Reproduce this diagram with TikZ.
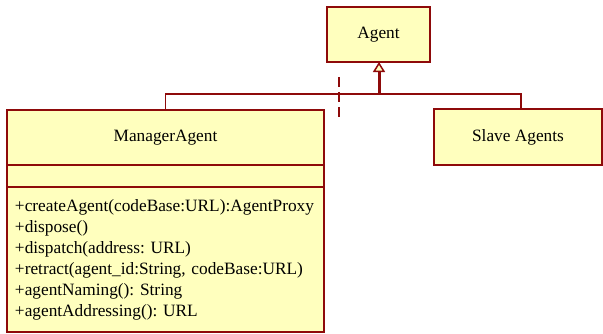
\documentclass[tikz,border=0pt]{standalone}
\usepackage{fontspec}
\setmainfont{Liberation Serif}
\usepackage{xcolor}
\usepackage{tikz}
\usetikzlibrary{arrows.meta,positioning,calc}
\definecolor{umlred}{HTML}{8E0A0A}
\definecolor{umlfill}{HTML}{FFFFBE}
\frenchspacing

\begin{document}
\begin{tikzpicture}[x=1pt,y=-1pt,every node/.style={font=\fontsize{17.3}{21}\selectfont},cls/.style={draw=umlred,fill=umlfill,line width=1.6pt,inner sep=0pt,outer sep=0pt,align=center},link/.style={draw=umlred,line width=1.5pt}]
\useasboundingbox (0,0) rectangle (603,333);
\node[cls,minimum width=103pt,minimum height=55pt] (agent) at (378.5,34.5) {Agent};
\node[cls,minimum width=317pt,minimum height=55pt] (mgrname) at (165.5,137.5) {ManagerAgent};
\node[cls,minimum width=317pt,minimum height=22pt,below=0pt of mgrname] (mgrattr) {};
\node[cls,minimum width=317pt,minimum height=145pt,below=0pt of mgrattr,text width=301pt,align=left] (mgrops) {+createAgent(codeBase:URL):AgentProxy\\+dispose()\\+dispatch(address: URL)\\+retract(agent\_id:String, codeBase:URL)\\+agentNaming(): String\\+agentAddressing(): URL};
\node[cls,minimum width=168pt,minimum height=56pt] (slave) at (518,137) {Slave Agents};
\coordinate (bus) at (379,94);
\draw[link] (mgrname.north) |- (bus) -| ([xshift=3pt]slave.north);
\draw[draw=umlred,line width=3pt,-{Triangle[length=10pt,width=12pt,fill=umlfill,line width=1.5pt]}] (bus) -- (bus |- agent.south);
\draw[umlred,line width=1.5pt,dash pattern=on 10pt off 5pt] (339,77) -- (339,118);
\end{tikzpicture}
\end{document}
